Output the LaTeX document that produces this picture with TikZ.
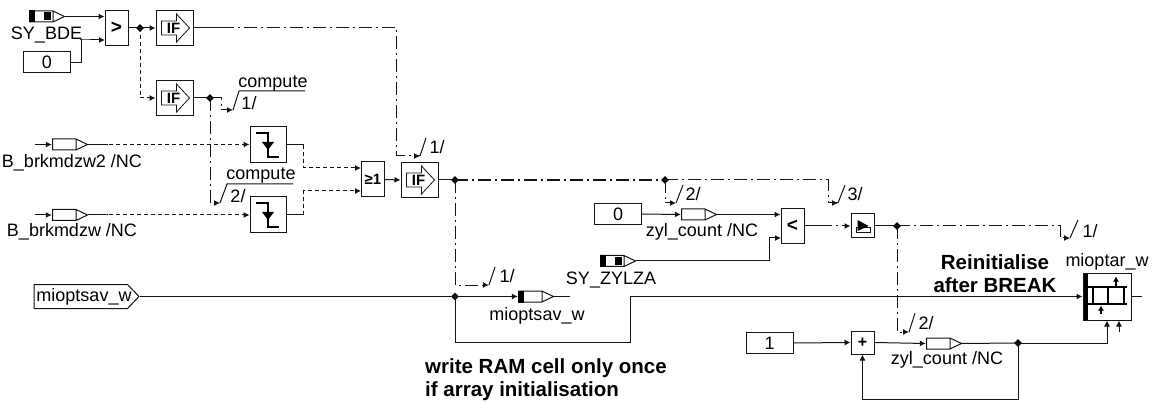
\documentclass[tikz,border=0pt]{standalone}
\usepackage{fontspec}
\setmainfont{Liberation Sans}
\usetikzlibrary{shapes.geometric, arrows.meta, calc}
\definecolor{wirecol}{RGB}{20, 20, 20}
\tikzset{
  lbl/.style={inner sep=0pt, font=\fontsize{18}{20}\selectfont},
  note/.style={inner sep=0pt, align=left, font=\bfseries\fontsize{20.5}{23}\selectfont},
  wire/.style={draw=wirecol, line width=1pt},
  flow/.style={wire, -{Latex[length=6pt,width=6pt]}},
  dotwire/.style={dash pattern=on 4pt off 3pt},
  chain/.style={dash pattern=on 13pt off 4pt on 2pt off 4pt},
  junct/.style={diamond, fill=black, inner sep=0pt, minimum size=8pt},
  gatebox/.style={draw=wirecol, line width=1pt, fill=white, inner sep=0pt, minimum width=23pt, minimum height=35pt, font=\bfseries\fontsize{19}{20}\selectfont},
  constbox/.style={draw=wirecol, line width=1pt, inner sep=0pt, minimum width=47pt, minimum height=21pt, font=\fontsize{18}{20}\selectfont},
  ifbox/.style={gatebox, minimum width=37pt, minimum height=35pt,
    label={[inner sep=0pt, font=\bfseries\fontsize{15}{16}\selectfont, xshift=-1pt]center:IF},
    path picture={\begin{scope}[shift={(path picture bounding box.center)}]
      \draw[wirecol, line width=0.8pt] (-13,-7) -- (2,-7) -- (2,-14) -- (15,0) -- (2,14) -- (2,7) -- (-13,7) -- cycle;
    \end{scope}}},
  edgebox/.style={gatebox, minimum width=36pt, minimum height=36pt,
    path picture={\begin{scope}[shift={(path picture bounding box.center)}]
      \draw[black, line width=1.6pt] (-12,-12) -- (0,-12) -- (0,12) -- (11,12);
      \fill[black] (-6,-3) -- (6,-3) -- (0,5) -- cycle;
    \end{scope}}},
  latchbox/.style={gatebox, minimum height=24pt,
    path picture={\begin{scope}[shift={(path picture bounding box.center)}]
      \draw[wirecol, line width=1pt] (-6,2) rectangle (8,7);
      \fill[black] (-5,-6) -- (6,0) -- (-5,5) -- cycle;
    \end{scope}}},
  msgbox/.style={inner sep=0pt, minimum width=36pt, minimum height=12pt,
    path picture={\begin{scope}[shift={(path picture bounding box.center)}]
      \draw[wirecol, line width=1pt] (-17.5,-5.5) -- (6,-5.5) -- (17.5,0) -- (6,5.5) -- (-17.5,5.5) -- cycle (6,-5.5) -- (6,5.5);
    \end{scope}}},
  sysmsg/.style={msgbox,
    path picture={\begin{scope}[shift={(path picture bounding box.center)}]
      \draw[wirecol, line width=1pt] (-17.5,-5.5) -- (6,-5.5) -- (17.5,0) -- (6,5.5) -- (-17.5,5.5) -- cycle (6,-5.5) -- (6,5.5);
      \fill[black] (-18,-6) rectangle (-12,6);
      \fill[black] (-3,-4) rectangle (4,4);
    \end{scope}}},
  writemsg/.style={msgbox,
    path picture={\begin{scope}[shift={(path picture bounding box.center)}]
      \draw[wirecol, line width=1pt] (-17.5,-5.5) -- (6,-5.5) -- (17.5,0) -- (6,5.5) -- (-17.5,5.5) -- cycle (6,-5.5) -- (6,5.5);
      \fill[black] (-18,-6) rectangle (-12,6);
    \end{scope}}},
  entrybox/.style={inner sep=0pt, minimum width=106pt, minimum height=25pt,
    label={[lbl, xshift=-2.5pt]center:mioptsav\_w},
    path picture={\begin{scope}[shift={(path picture bounding box.center)}]
      \draw[wirecol, line width=1pt] (-52.5,-12) -- (41,-12) -- (52.5,0) -- (41,12) -- (-52.5,12) -- cycle;
    \end{scope}}},
  arraybox/.style={draw=wirecol, line width=1pt, inner sep=0pt, minimum width=48pt, minimum height=47pt,
    path picture={\begin{scope}[shift={(path picture bounding box.center)}]
      \fill[black] (-24,-24) rectangle (-19,24);
      \draw[black, line width=1.3pt] (-19,-9.5) -- (20,-9.5) (-19,7.5) -- (20,7.5);
      \draw[black, line width=1.3pt] (-14,-9.5) -- (-14,7.5) (1,-9.5) -- (1,7.5) (17,-9.5) -- (17,7.5);
      \draw[black, line width=1.1pt, -{Latex[length=5pt,width=6pt]}] (9,-9.5) -- (9,-20);
      \draw[black, line width=1.1pt, -{Latex[length=5pt,width=6pt]}] (-6,17.5) -- (-6,9);
    \end{scope}}}
}
\begin{document}
\begin{tikzpicture}[x=1pt, y=-1pt]
  \useasboundingbox (0,0) rectangle (1153,403);
  % first row
  \node[sysmsg] (bde) at (47,16.5) {};
  \node[lbl] (bdelbl) at (46.5,35) {SY\_BDE};
  \node[constbox] (zeroa) at (47,62.5) {0};
  \node[gatebox] (gtbde) at (116.5,28) {>};
  \node[junct] (gtdot) at (140,28) {};
  \node[ifbox] (ifa) at (174.5,28) {};
  \node[ifbox] (ifb) at (174.5,98) {};
  \node[junct] (ifbdot) at (210,98) {};
  \node[lbl] (compa) at (273,84) {compute};
  \node[lbl] (markcompa) at (249,103) {1/};
  % falling edge inputs
  \node[msgbox] (brktwo) at (70,144.5) {};
  \node[lbl] (brktwolbl) at (72,163) {B\_brkmdzw2 /NC};
  \node[msgbox] (brkone) at (70,215) {};
  \node[lbl] (brkonelbl) at (72,232) {B\_brkmdzw /NC};
  \node[edgebox] (edgea) at (268,145) {};
  \node[edgebox] (edgeb) at (268,215) {};
  \node[lbl] (compb) at (261,176) {compute};
  \node[lbl] (markcompb) at (238,196) {2/};
  \node[gatebox, font=\bfseries\fontsize{15}{16}\selectfont] (orgate) at (373,179.5) {≥1};
  \node[ifbox] (ifc) at (419.5,180) {};
  \node[junct] (ifcdot) at (455,180) {};
  \node[lbl] (markc) at (437,147) {1/};
  % compare branch
  \node[junct] (chdot) at (665,180) {};
  \node[lbl] (markd) at (693,194) {2/};
  \node[lbl] (marke) at (855,194) {3/};
  \node[constbox] (zerob) at (618,214) {0};
  \node[msgbox] (cntrd) at (699,214.5) {};
  \node[lbl] (cntrdlbl) at (702,232) {zyl\_count /NC};
  \node[sysmsg] (zylza) at (618,261) {};
  \node[lbl] (zylzalbl) at (611,280) {SY\_ZYLZA};
  \node[gatebox] (ltzyl) at (792.5,226) {<};
  \node[latchbox] (latch) at (862.5,226) {};
  \node[junct] (latchdot) at (897,226) {};
  \node[lbl] (markf) at (1090,231) {1/};
  % bottom row
  \node[entrybox] (sav) at (86.5,296.5) {};
  \node[junct] (savdot) at (455,296.5) {};
  \node[writemsg] (savwr) at (536,296.5) {};
  \node[lbl] (savwrlbl) at (537,316) {mioptsav\_w};
  \node[lbl] (markg) at (507,276) {1/};
  \node[note, anchor=north west] (ramnote) at (425,358) {write RAM cell only once\\if array initialisation};
  \node[note, align=center] (breaknote) at (995,273.5) {Reinitialise\\after BREAK};
  \node[lbl] (optlbl) at (1107,262) {mioptar\_w};
  \node[arraybox] (opt) at (1107,296.5) {};
  \node[constbox] (onec) at (769.5,343) {1};
  \node[gatebox, minimum height=23pt, font=\bfseries\fontsize{16}{16}\selectfont] (plusc) at (862.5,342.5) {+};
  \node[msgbox] (cntwr) at (944,343.5) {};
  \node[lbl] (cntwrlbl) at (947,360) {zyl\_count /NC};
  \node[lbl] (markh) at (926,323) {2/};
  \node[junct] (cntdot) at (1018,343) {};
  % free ends
  \coordinate (brktwoin) at (35,144.5);
  \coordinate (brkonein) at (35,215);
  \coordinate (marka) at (233,110);
  \coordinate (markb) at (220,203);
  \coordinate (tipc) at (420,156);
  \coordinate (bendc) at (396,28);
  \coordinate (tipd) at (676,203);
  \coordinate (tipe) at (838,203);
  \coordinate (bende) at (828,180);
  \coordinate (tipf) at (1070,238);
  \coordinate (bendf) at (1060,226);
  \coordinate (tipg) at (489,285);
  \coordinate (tiph) at (909,332);
  \coordinate (loopa) at (630,342);
  \coordinate (loopb) at (1018,399);
  \coordinate (optin) at (1119,332);
  \coordinate (optout) at (1142,296.5);
  \coordinate (savout) at (570,296.5);
  % solid wires
  \draw[flow] (bde.east) -- (gtbde.west |- bde.east);
  \draw[flow] (zeroa.east) -- ++(10,0) |- (80,40) -- (105,40);
  \draw[wire] (gtbde.east) -- (gtdot.center);
  \draw[flow] (gtdot.center) -- (ifa.west);
  \draw[wire] (ifa.east) -- ++(27,0);
  \draw[wire] (ifb.east) -- (ifbdot.center);
  \draw[flow] (orgate.east) -- (ifc.west);
  \draw[wire] (ifc.east) -- (ifcdot.center);
  \draw[flow] (brktwoin) -- (brktwo.west);
  \draw[flow] (brkonein) -- (brkone.west);
  \draw[wire] (brktwo.east) -- ++(20,0);
  \draw[wire] (brkone.east) -- ++(20,0);
  \draw[wire] (edgea.east) -- ++(17,0);
  \draw[wire] (edgeb.east) -- ++(17,0);
  \draw[flow] (zerob.east) -- (cntrd.west);
  \draw[flow] (cntrd.east) -- (ltzyl.west |- cntrd.east);
  \draw[flow] (zylza.east) -| (769,238) -- (781,238);
  \draw[wire] (ltzyl.east) -- ++(14,0);
  \draw[wire] (latch.east) -- (latchdot.center);
  \draw[wire] (sav.east) -- (savdot.center);
  \draw[flow] (savdot.center) -- (savwr.west);
  \draw[wire] (savwr.east) -- (savout);
  \draw[flow] (savdot.center) |- (loopa) |- (opt.west);
  \draw[wire] (opt.east) -- (optout);
  \draw[flow] (onec.east) -- (plusc.west);
  \draw[flow] (plusc.east) -- (cntwr.west);
  \draw[wire] (cntwr.east) -- (cntdot.center);
  \draw[flow] (cntdot.center) -| (opt.south);
  \draw[flow] (optin) -- (optin |- opt.south);
  \draw[flow] (cntdot.center) |- (loopb) -| (plusc.south);
  % dotted wires
  \draw[flow, dotwire] (gtdot.center) |- (ifb.west);
  \draw[flow, dotwire] (brktwo.east) -- (brktwo.east -| edgea.west);
  \draw[flow, dotwire] (brkone.east) -- (edgeb.west);
  \draw[flow, dotwire] ($(edgea.east)+(17,0)$) |- (361,168);
  \draw[flow, dotwire] ($(edgeb.east)+(17,0)$) |- (361,191);
  % chain wires
  \draw[wire, chain] ($(ifa.east)+(27,0)$) -- (bendc) |- (tipc);
  \draw[flow, chain] (ifbdot.center) -- (221,98) |- (marka);
  \draw[flow, chain] (ifbdot.center) |- (markb);
  \draw[flow, chain] (ifcdot.center) |- (tipg);
  \draw[wire, chain, line width=1.3pt] (ifcdot.center) -- (chdot.center);
  \draw[wire, chain] (chdot.center) -- (bende) |- (tipe);
  \draw[flow, chain] (chdot.center) |- (tipd);
  \draw[flow, chain] ($(ltzyl.east)+(14,0)$) -- (latch.west);
  \draw[flow, chain] (latchdot.center) -- (bendf) |- (tipf);
  \draw[flow, chain] (latchdot.center) -- (897,332) -- (tiph);
  % arrow tips on bus marks and slashes
  \draw[flow] ($(tipc)+(-6,0)$) -- (tipc);
  \draw[wire] (marka) -- ++(6,-19) -- ++(66,0);
  \draw[wire] (markb) -- ++(7,-19) -- ++(66,0);
  \draw[wire] (tipc) -- ++(6,-18);
  \draw[wire] (tipd) -- ++(7,-18);
  \draw[flow] ($(tipe)+(-6,0)$) -- (tipe);
  \draw[wire] (tipe) -- ++(7,-18);
  \draw[wire] (tipf) -- ++(8,-18);
  \draw[wire] (tipg) -- ++(6,-18);
  \draw[wire] (tiph) -- ++(6,-19);
\end{tikzpicture}
\end{document}
